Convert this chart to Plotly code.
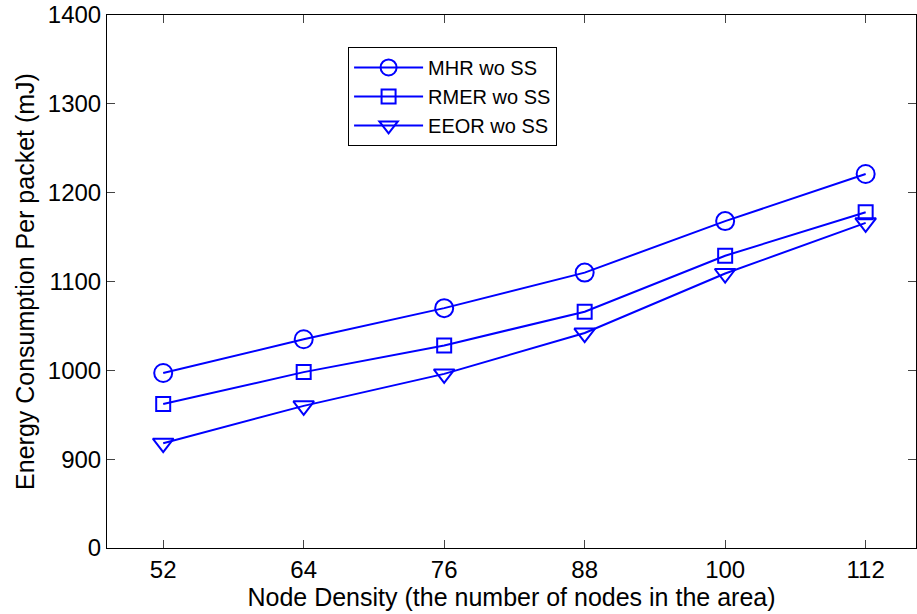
import plotly.graph_objects as go

node_density = [52, 64, 76, 88, 100, 112]
mhr = [997, 1035, 1070, 1110, 1168, 1221]
rmer = [962, 998, 1028, 1066, 1129, 1178]
eeor = [918, 960, 996, 1042, 1109, 1166]

y_tickvals = [800, 900, 1000, 1100, 1200, 1300, 1400]
y_ticktext = ["0", "900", "1000", "1100", "1200", "1300", "1400"]

series = [
    ("MHR wo SS", mhr, "circle-open", 18),
    ("RMER wo SS", rmer, "square-open", 14),
    ("EEOR wo SS", eeor, "triangle-down-open", 18),
]

fig = go.Figure()
for name, vals, sym, sz in series:
    fig.add_trace(go.Scatter(
        x=node_density, y=vals, name=name, mode="lines+markers",
        line=dict(color="#0000FF", width=2),
        marker=dict(symbol=sym, size=sz, color="#0000FF", line=dict(width=2, color="#0000FF")),
    ))

font = dict(family="Liberation Sans, Arial, sans-serif", color="black")
fig.update_layout(
    width=917, height=614,
    margin=dict(l=107, r=1, t=15, b=66),
    paper_bgcolor="white", plot_bgcolor="white",
    font=dict(size=20, **font),
    showlegend=True,
    legend=dict(x=0.298, y=0.94, xanchor="left", yanchor="top",
                bgcolor="white", bordercolor="black", borderwidth=1,
                font=dict(size=20, **font), tracegroupgap=0, itemwidth=69),
    xaxis=dict(range=[47.2, 116.3], tickvals=node_density, ticks="inside", ticklen=8,
               showline=True, linecolor="black", linewidth=1, mirror="ticks",
               showgrid=False, zeroline=False, tickfont=dict(size=24, **font),
               title=dict(text="Node Density (the number of nodes in the area)",
                          font=dict(size=25, **font), standoff=2)),
    yaxis=dict(range=[800, 1400], tickvals=y_tickvals, ticktext=y_ticktext,
               ticks="inside", ticklen=8,
               showline=True, linecolor="black", linewidth=1, mirror="ticks",
               showgrid=False, zeroline=False, tickfont=dict(size=24, **font),
               title=dict(text="Energy Consumption Per packet (mJ)",
                          font=dict(size=25, **font), standoff=6)),
)

fig.write_html("out.html")
